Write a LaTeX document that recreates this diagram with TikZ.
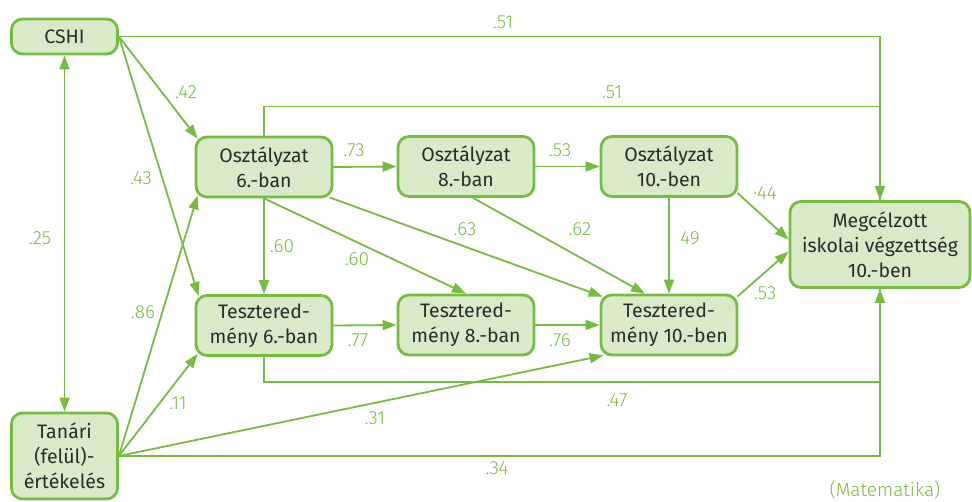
\documentclass[tikz,border=0pt]{standalone}
\usepackage{fontspec}
\setmainfont{Fira Sans}
\newfontfamily\lightfont{Fira Sans Light}
\usetikzlibrary{arrows.meta,calc}
\definecolor{lnk}{HTML}{76BC43}
\definecolor{boxfill}{HTML}{D9EAC9}
\definecolor{ink}{HTML}{2B2B2B}
\tikzset{
  box/.style={rectangle, rounded corners=11pt, line width=2.8pt, draw=lnk, fill=boxfill,
    text=ink, align=center, inner sep=0pt, minimum width=136pt, minimum height=60pt,
    font=\fontsize{19.5}{25}\selectfont},
  link/.style={draw=lnk, line width=1.8pt},
  arr/.style={link, -{Triangle[length=14pt,width=10pt]}},
  biarr/.style={link, {Triangle[length=14pt,width=10pt]}-{Triangle[length=14pt,width=10pt]}},
  lbl/.style={text=lnk, inner sep=1pt, font=\lightfont\fontsize{19}{20}\selectfont}
}
\begin{document}
\begin{tikzpicture}[x=1pt,y=-1pt]
\useasboundingbox (0,0) rectangle (972,502);

% boxes
\node[box, minimum width=106pt, minimum height=35pt] (cshi) at (64.5,36.5) {CSHI};
\node[box, minimum width=106pt, minimum height=86pt] (tan) at (64.5,456) {Tanári\\(felül)-\\értékelés};
\node[box] (osz6) at (264,167) {Osztályzat\\6.-ban};
\node[box] (osz8) at (466,166.5) {Osztályzat\\8.-ban};
\node[box] (osz10) at (669,166.5) {Osztályzat\\10.-ben};
\node[box] (tsz6) at (264,325.5) {Tesztered-\\mény 6.-ban};
\node[box] (tsz8) at (466,325) {Tesztered-\\mény 8.-ban};
\node[box] (tsz10) at (669,325) {Tesztered-\\mény 10.-ben};
\node[box, minimum width=180pt, minimum height=86pt] (goal) at (880,244.5) {Megcélzott\\iskolai végzettség\\10.-ben};

% long routed paths into the outcome box
\draw[arr] (cshi.east) -| (goal.north);
\draw[link] (osz6.north) -- ++(0,-29) -| (goal.north);
\draw[arr] (tan.east) -| (goal.south);
\draw[link] (tsz6.south) -- ++(0,25) -| (goal.south);

% correlation between the background variables
\draw[biarr] (cshi.south) -- (tan.north);

% from the background variables
\draw[arr] (cshi.east) -- ($(osz6.north west)+(3,3)$);
\draw[arr] (cshi.east) -- ($(tsz6.north west)+(4,2)$);
\draw[arr] (tan.east) -- ($(osz6.south west)+(3,-3)$);
\draw[arr] (tan.east) -- ($(tsz6.south west)+(3,-3)$);
\draw[arr] (tan.east) -- ($(tsz10.south west)+(4,-1)$);

% grades and test results over time
\draw[arr] (osz6.east) -- (osz8.west);
\draw[arr] (osz8.east) -- (osz10.west);
\draw[arr] (tsz6.east) -- (tsz8.west);
\draw[arr] (tsz8.east) -- (tsz10.west);
\draw[arr] (osz6.south) -- (tsz6.north);
\draw[arr] (osz6.south) -- (tsz8.north);
\draw[arr] ($(osz6.south east)+(-4,-1)$) -- ($(tsz10.north west)+(3,3)$);
\draw[arr] ($(osz8.south)+(7,0)$) -- ($(tsz10.north)+(-24,0)$);
\draw[arr] (osz10.south) -- (tsz10.north);
\draw[arr] ($(osz10.south east)+(-1,-5)$) -- ($(goal.west)+(0,-5)$);
\draw[arr] ($(tsz10.north east)+(-1,3)$) -- ($(goal.west)+(0,7)$);

% path coefficients
\node[lbl] (c1) at (503,22) {.51};
\node[lbl] (c2) at (612,92) {.51};
\node[lbl] (c3) at (186,92) {.42};
\node[lbl] (c4) at (141,178) {.43};
\node[lbl] (c5) at (40,238) {.25};
\node[lbl] (c6) at (143,312) {.86};
\node[lbl] (c7) at (178,403) {.11};
\node[lbl] (c8) at (375,418) {.31};
\node[lbl] (c9) at (497,468) {.34};
\node[lbl] (c10) at (617,400) {.47};
\node[lbl] (c11) at (354,150) {.73};
\node[lbl] (c12) at (560,150) {.53};
\node[lbl] (c13) at (282,246) {.60};
\node[lbl] (c14) at (357,259) {.60};
\node[lbl] (c15) at (465,229) {.63};
\node[lbl] (c16) at (580,229) {.62};
\node[lbl] (c17) at (690,238) {49};
\node[lbl] (c18) at (765,193) {·44};
\node[lbl] (c19) at (765,293) {.53};
\node[lbl] (c20) at (358,340) {.77};
\node[lbl] (c21) at (560,340) {.76};
\node[lbl] (subj) at (885,490) {(Matematika)};
\end{tikzpicture}
\end{document}
